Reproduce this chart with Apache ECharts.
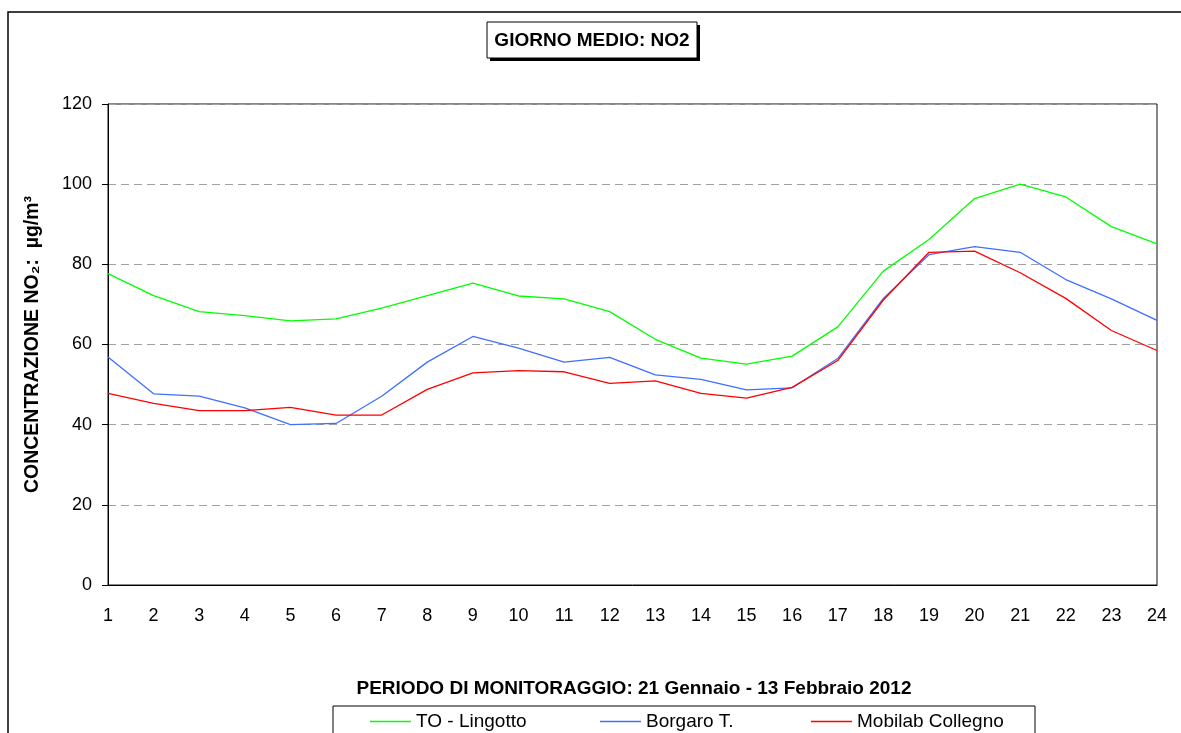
<!DOCTYPE html>
<html>
<head>
<meta charset="utf-8">
<script src="https://cdn.jsdelivr.net/npm/echarts@6/dist/echarts.min.js"></script>
<style>
 html,body{margin:0;padding:0;background:#fff;}
 #main{width:1181px;height:733px;}
</style>
</head>
<body>
<div id="main"></div>
<script>
// ore del giorno medio
var hours=['1','2','3','4','5','6','7','8','9','10','11','12','13','14','15','16','17','18','19','20','21','22','23','24'];
// concentrazioni NO2 (µg/m³)
var lingotto=[77.7,72.2,68.2,67.2,65.9,66.4,69.1,72.2,75.3,72.1,71.4,68.2,61.3,56.6,55.1,57.1,64.4,78.3,86.2,96.4,100,96.8,89.4,85.1];
var borgaro=[56.9,47.7,47.1,44.2,40.0,40.3,47.1,55.6,62.0,59.1,55.6,56.8,52.4,51.3,48.7,49.2,56.5,71.5,82.4,84.4,83.0,76.2,71.4,66.0];
var collegno=[47.8,45.3,43.5,43.5,44.3,42.4,42.4,48.8,52.9,53.5,53.2,50.3,50.9,47.8,46.6,49.3,56.0,71.1,83.0,83.3,77.9,71.5,63.5,58.5];
var yTicks=[0,20,40,60,80,100,120];

var font='"Liberation Sans", Arial, sans-serif';
var chart=echarts.init(document.getElementById('main'));

function legendAt(name,x){
 return {
  left:x,top:712,padding:0,
  data:[name],
  icon:'rect',
  itemWidth:41,itemHeight:1.5,
  itemGap:0,
  textStyle:{fontFamily:font,fontSize:19,color:'#000',padding:[0,0,0,0]}
 };
}

var option={
 animation:false,
 backgroundColor:'#fff',
 grid:{
  left:108,right:24,top:104,bottom:148,
  show:true,borderColor:'#111',borderWidth:1
 },
 xAxis:{
  type:'category',
  data:hours,
  boundaryGap:false,
  axisLine:{lineStyle:{color:'#000',width:1}},
  axisTick:{show:false},
  axisLabel:{color:'#000',fontFamily:font,fontSize:18,margin:22,interval:0},
  splitLine:{show:false}
 },
 yAxis:{
  type:'value',
  min:yTicks[0],max:yTicks[yTicks.length-1],interval:20,
  name:'CONCENTRAZIONE NO₂:  µg/m³',
  nameLocation:'middle',
  nameRotate:90,
  nameGap:65,
  nameTextStyle:{color:'#000',fontFamily:font,fontSize:19.5,fontWeight:'bold'},
  axisLine:{show:true,lineStyle:{color:'#000',width:1}},
  axisTick:{show:true,length:6,lineStyle:{color:'#000'}},
  axisLabel:{color:'#000',fontFamily:font,fontSize:18,margin:16},
  splitLine:{show:true,lineStyle:{color:'#a0a0a0',type:[8,5],width:1}}
 },
 legend:[
  legendAt('TO - Lingotto',370),
  legendAt('Borgaro T.',600),
  legendAt('Mobilab Collegno',811)
 ],
 series:[
  {name:'TO - Lingotto',type:'line',data:lingotto,showSymbol:false,
   lineStyle:{color:'#00ff00',width:1.3},itemStyle:{color:'#00ff00'}},
  {name:'Borgaro T.',type:'line',data:borgaro,showSymbol:false,
   lineStyle:{color:'#3f6fff',width:1.3},itemStyle:{color:'#3f6fff'}},
  {name:'Mobilab Collegno',type:'line',data:collegno,showSymbol:false,
   lineStyle:{color:'#ff0000',width:1.3},itemStyle:{color:'#ff0000'}}
 ],
 graphic:[
  // cornice esterna
  {type:'rect',shape:{x:8,y:12,width:1250,height:800},
   style:{fill:'none',stroke:'#000',lineWidth:1.5},z:-10},
  // titolo con ombra
  {type:'rect',shape:{x:490,y:25,width:210,height:36},style:{fill:'#000'},z:10},
  {type:'rect',shape:{x:487,y:22,width:210,height:36},
   style:{fill:'#fff',stroke:'#000',lineWidth:1},z:11},
  {type:'text',x:592,y:41,z:12,
   style:{text:'GIORNO MEDIO: NO2',fill:'#000',font:'bold 19px '+font,
    textAlign:'center',textVerticalAlign:'middle'}},
  // periodo
  {type:'text',x:634,y:689,z:12,
   style:{text:'PERIODO DI MONITORAGGIO: 21 Gennaio - 13 Febbraio 2012',fill:'#000',
    font:'bold 19px '+font,textAlign:'center',textVerticalAlign:'middle'}},
  // riquadro legenda
  {type:'rect',shape:{x:333,y:706,width:702,height:60},
   style:{fill:'none',stroke:'#000',lineWidth:1},z:5}
 ]
};
chart.setOption(option);
</script>
</body>
</html>
